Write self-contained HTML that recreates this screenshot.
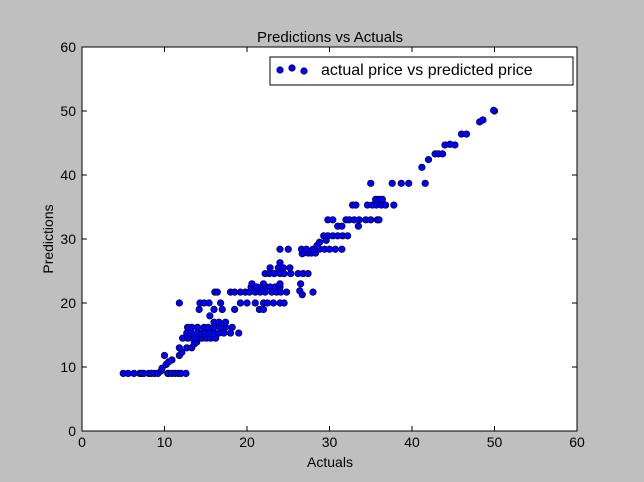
<!DOCTYPE html>
<html><head><meta charset="utf-8"><style>
html,body{margin:0;padding:0;background:#bfbfbf;}
svg{display:block;font-family:"Liberation Sans",sans-serif;}
</style></head><body>
<svg id="chart" width="644" height="482">
<rect x="0" y="0" width="644" height="482" fill="#bfbfbf"/>
<rect x="82" y="47" width="495" height="384" fill="#fff" stroke="#000" stroke-width="1"/>
<text x="330" y="42" text-anchor="middle" font-size="15">Predictions vs Actuals</text>
<text x="330" y="467" text-anchor="middle" font-size="14">Actuals</text>
<text x="53" y="239" text-anchor="middle" font-size="14" transform="rotate(-90 53 239)">Predictions</text>
<g id="axes"></g>
<g id="points"></g>
<g>
<rect x="270" y="57" width="303" height="28" fill="#fff" stroke="#000"/>
<circle cx="280" cy="70" r="3.3" fill="#0000ff" stroke="#000" stroke-width="0.6"/>
<circle cx="292" cy="68" r="3.3" fill="#0000ff" stroke="#000" stroke-width="0.6"/>
<circle cx="304" cy="71" r="3.3" fill="#0000ff" stroke="#000" stroke-width="0.6"/>
<text x="321" y="75" font-size="16">actual price vs predicted price</text>
</g>
</svg>
<script>
const xTicks=[0,10,20,30,40,50,60];
const yTicks=[0,10,20,30,40,50,60];
const points=[
[5,9],[5.6,9],[6.3,9],[7,9],[7.2,9],[7.5,9],[8.1,9],[8.4,9],[8.8,9],[9.2,9],[10.4,9],[10.5,9],[10.9,9],[11.3,9],[11.7,9],[12,9],[12.6,9],
[9.6,9.4],[9.7,9.8],[10.2,10.4],[10.5,10.8],[10.9,11.1],[10,11.8],
[11.8,11.8],[12.1,12.3],[11.8,13],[12.7,13],[13.3,13],[13.6,13.6],[13.9,13.9],
[12.2,14.5],[12.8,14.5],[13.3,14.5],[13.7,14.5],[14.2,14.5],[14.6,14.5],[15.1,14.5],[15.6,14.5],[16.2,14.5],
[12.7,15.3],[13.3,15.3],[14,15.3],[14.5,15.3],[15,15.3],[15.5,15.3],[16,15.3],[16.6,15.3],[17.2,15.3],[18,15.3],[19,15.3],
[12.8,16.2],[13.3,16.2],[14,16.2],[14.8,16.2],[15.3,16.2],[16,16.2],[16.8,16.2],[17.4,16.2],[18.2,16.2],
[16,17],[16.6,17],[17.4,17],[15.5,18],[14.2,19],[16,19],[17,19],[18.5,19],[21.5,19],[22,19],
[11.8,20],[14.3,20],[14.8,20],[15.4,20],[16.8,20],[19.2,20],[20,20],[21,20],[22,20],[22.5,20],[23.2,20],[24,20],[24.5,20],
[16.1,21.7],[16.4,21.7],[18,21.7],[18.5,21.7],[19.2,21.7],[19.8,21.7],[20.3,21.7],[21,21.7],[21.6,21.7],[22.2,21.7],[23,21.7],[23.6,21.7],[24.1,21.7],[24.8,21.7],[28,21.7],
[20.5,22.5],[21.2,22.5],[21.8,22.5],[22.3,22.5],[22.8,22.5],[23.4,22.5],[24,22.5],
[20.6,23],[22,23],[24,23],[26.5,23],[26.7,21.3],[26.4,21.9],
[22.2,24.6],[22.7,24.6],[23.3,24.6],[24,24.6],[24.5,24.6],[25.3,24.6],[26.2,24.6],[26.8,24.6],[27.4,24.6],
[22.8,25.5],[23.8,25.5],[24.4,25.5],[25.2,25.5],[24,26.3],
[26.8,27.8],[27.4,27.8],[27.8,27.8],[28.3,27.8],[26.7,27.7],
[24,28.4],[25,28.4],[26.6,28.4],[27.2,28.4],[28,28.4],[28.8,28.4],[29.4,28.4],[30,28.4],[30.7,28.4],[31.5,28.4],
[28.5,29],[28.8,29.5],[29.3,30.5],[29.8,30.5],[30.4,30.5],[31,30.5],[31.6,30.5],[32.2,30.5],[29.6,29.8],
[31,32],[31.5,32],[33.5,32],
[29.8,33],[30.4,33],[32,33],[32.4,33],[33,33],[33.6,33],[34.4,33],[35,33],[35.8,33],[36,33],
[32.8,35.3],[33.2,35.3],[34.6,35.3],[35.2,35.3],[35.7,35.3],[36.3,35.3],[36.8,35.3],[37.8,35.3],
[35.6,36.2],[36,36.2],[36.4,36.2],
[35,38.7],[37.6,38.7],[38.7,38.7],[39.6,38.7],[41.6,38.7],
[41.2,41.2],[42,42.4],[42.8,43.3],[43.2,43.3],[43.7,43.3],[44,44.7],[44.6,44.8],[45.2,44.7],[46,46.4],[46.6,46.4],[48.2,48.3],[48.6,48.6],[50,50],[49.9,50.1]
];
const X0=82,X1=577,Y0=431,Y1=47,XMAX=60,YMAX=60;
function sx(v){return X0+(X1-X0)*v/XMAX;}
function sy(v){return Y0-(Y0-Y1)*v/YMAX;}
const NS="http://www.w3.org/2000/svg";
const ax=document.getElementById('axes');
xTicks.forEach(t=>{
  const x=sx(t);
  [[Y0,Y0-5],[Y1,Y1+5]].forEach(p=>{
    const l=document.createElementNS(NS,'line');
    l.setAttribute('x1',x);l.setAttribute('x2',x);l.setAttribute('y1',p[0]);l.setAttribute('y2',p[1]);
    l.setAttribute('stroke','#000');
    
    
    ax.appendChild(l);
  });
  const tx=document.createElementNS(NS,'text');
  tx.setAttribute('x',x);tx.setAttribute('y',Y0+16);tx.setAttribute('text-anchor','middle');tx.setAttribute('font-size','14');
  tx.textContent=t;
  
  
  ax.appendChild(tx);
});
yTicks.forEach(t=>{
  const y=sy(t);
  [[X0,X0+5],[X1,X1-5]].forEach(p=>{
    const l=document.createElementNS(NS,'line');
    l.setAttribute('y1',y);l.setAttribute('y2',y);l.setAttribute('x1',p[0]);l.setAttribute('x2',p[1]);
    l.setAttribute('stroke','#000');
    
    
    ax.appendChild(l);
  });
  const tx=document.createElementNS(NS,'text');
  tx.setAttribute('x',X0-6);tx.setAttribute('y',y+5);tx.setAttribute('text-anchor','end');tx.setAttribute('font-size','14');
  tx.textContent=t;
  
  
  ax.appendChild(tx);
});
const pg=document.getElementById('points');
points.forEach(p=>{
  const c=document.createElementNS(NS,'circle');
  c.setAttribute('cx',sx(p[0]));c.setAttribute('cy',sy(p[1]));c.setAttribute('r','3.3');
  c.setAttribute('fill','#0000ff');c.setAttribute('stroke','#000');c.setAttribute('stroke-width','0.6');
  
  
  pg.appendChild(c);
});
</script>
</body></html>
